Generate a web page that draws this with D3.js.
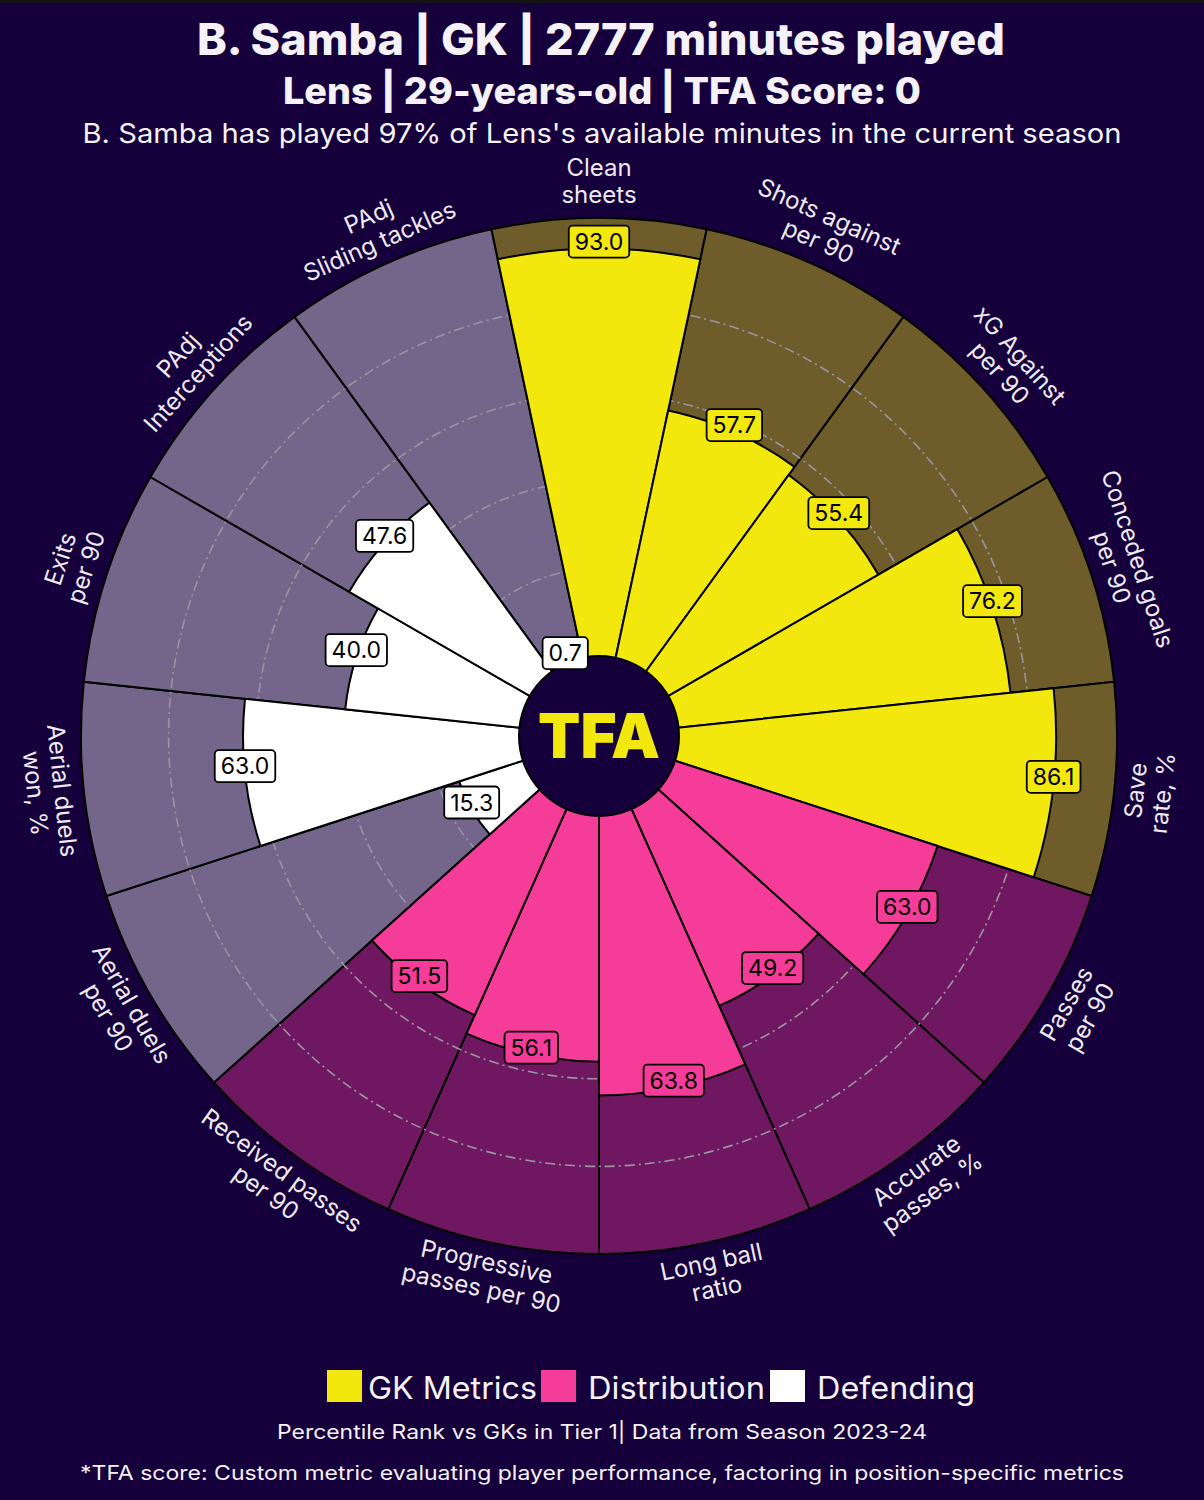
<!DOCTYPE html>
<meta charset="utf-8">
<script src="https://d3js.org/d3.v7.min.js"></script>
<style>
  body { margin: 0; background: #16003c; }
  text { font-family: Inter, "Noto Sans", sans-serif; }
</style>
<div id="chart"></div>
<script>

// parameters, clockwise from the top
var params = ["Clean\nsheets", "Shots against\nper 90", "xG Against\nper 90", "Conceded goals\nper 90", "Save\nrate, %",
  "Passes\nper 90", "Accurate\npasses, %", "Long ball\nratio", "Progressive\npasses per 90", "Received passes\nper 90",
  "Aerial duels\nper 90", "Aerial duels\nwon, %", "Exits\nper 90", "PAdj\nInterceptions", "PAdj\nSliding tackles"]
var values = [93.0, 57.7, 55.4, 76.2, 86.1,
  63.0, 49.2, 63.8, 56.1, 51.5,
  15.3, 63.0, 40.0, 47.6, 0.7]
var groupOf = ["GK Metrics", "GK Metrics", "GK Metrics", "GK Metrics", "GK Metrics",
  "Distribution", "Distribution", "Distribution", "Distribution", "Distribution",
  "Defending", "Defending", "Defending", "Defending", "Defending"]
var groups = ["GK Metrics", "Distribution", "Defending"]
var groupColors = ["#f2e80e", "#f43c98", "#ffffff"]
var gridTicks = [20, 40, 60, 80]

var W = 1204, H = 1500, cx = 599, cy = 736
var bg = "#16003c"
var color = d3.scaleOrdinal().domain(groups).range(groupColors)

var svg = d3.select("#chart").append("svg")
  .attr("width", W).attr("height", H)

svg.append("rect").attr("width", W).attr("height", H).attr("fill", bg)
svg.append("rect").attr("width", W).attr("height", 3).attr("fill", "#141414")

// titles
function fitText(sel, w) { sel.attr("textLength", w).attr("lengthAdjust", "spacingAndGlyphs") }
svg.append("text").attr("x", 601).attr("y", 55).attr("text-anchor", "middle")
  .attr("font-size", 44).attr("font-weight", 800).attr("fill", "#f4f2f6")
  .text("B. Samba | GK | 2777 minutes played").call(fitText, 808)
svg.append("text").attr("x", 602).attr("y", 104).attr("text-anchor", "middle")
  .attr("font-size", 37).attr("font-weight", 800).attr("fill", "#f4f2f6")
  .text("Lens | 29-years-old | TFA Score: 0").call(fitText, 638)
svg.append("text").attr("x", 602).attr("y", 143).attr("text-anchor", "middle")
  .attr("font-size", 27).attr("fill", "#f4f2f6")
  .text("B. Samba has played 97% of Lens's available minutes in the current season").call(fitText, 1039)

var r = d3.scaleLinear().domain([0, 100]).range([80, 518])
var step = 2 * Math.PI / params.length
var idx = d3.range(params.length)

var arc = d3.arc()
  .innerRadius(0)
  .startAngle(function(i){ return i * step - step / 2 })
  .endAngle(function(i){ return i * step + step / 2 })

var g = svg.append("g").attr("transform", "translate(" + cx + "," + cy + ")")

// background slices (full range, faded)
g.selectAll(".bgslice").data(idx).enter().append("path")
  .attr("d", function(i){ return arc.outerRadius(r(100))(i) })
  .attr("fill", function(i){ return color(groupOf[i]) })
  .attr("fill-opacity", 0.4)
  .attr("stroke", "#000").attr("stroke-width", 2)

// grid circles
g.selectAll(".grid").data(gridTicks).enter().append("circle")
  .attr("r", function(d){ return r(d) })
  .attr("fill", "none")
  .attr("stroke", "#9a94a0").attr("stroke-width", 1.6)
  .attr("stroke-dasharray", "10,4,2,4")

// value bars
g.selectAll(".bar").data(idx).enter().append("path")
  .attr("d", function(i){ return arc.outerRadius(r(values[i]))(i) })
  .attr("fill", function(i){ return color(groupOf[i]) })
  .attr("stroke", "#000").attr("stroke-width", 2)

// center circle + logo
g.append("circle").attr("r", 80).attr("fill", bg).attr("stroke", "#000").attr("stroke-width", 2)
g.append("text").attr("x", 0).attr("y", 22).attr("text-anchor", "middle")
  .attr("font-size", 62).attr("font-weight", 900).attr("fill", "#f2e80e")
  .text("TFA").call(fitText, 122)

// value labels (sit a little above the bar end)
var vl = g.selectAll(".val").data(idx).enter().append("g")
  .attr("transform", function(i){
    var a = i * step, rr = r(values[i])
    return "translate(" + (rr * Math.sin(a)) + "," + (-rr * Math.cos(a) - 7) + ")"
  })
vl.append("rect")
vl.append("text")
  .attr("text-anchor", "middle").attr("dominant-baseline", "central")
  .attr("font-size", 23).attr("fill", "#000")
  .text(function(i){ return values[i].toFixed(1) })
vl.each(function(i){
  var t = d3.select(this).select("text").node().getBBox()
  d3.select(this).select("rect")
    .attr("x", t.x - 6).attr("y", -16).attr("width", t.width + 12).attr("height", 32)
    .attr("rx", 4).attr("fill", color(groupOf[i]))
    .attr("stroke", "#000").attr("stroke-width", 1.8)
})

// parameter labels
var rl = 553
var pl = g.selectAll(".param").data(idx).enter().append("text")
  .attr("text-anchor", "middle")
  .attr("font-size", 24).attr("fill", "#eeeaf2")
  .attr("transform", function(i){
    var deg = i * 360 / params.length
    var a = i * step
    var rot = (deg > 90 && deg < 270) ? deg - 180 : deg
    return "translate(" + (rl * Math.sin(a)) + "," + (-rl * Math.cos(a) - 2) + ") rotate(" + rot + ")"
  })
pl.each(function(i){
  var lines = params[i].split("\n")
  var t = d3.select(this)
  lines.forEach(function(l, k){
    t.append("tspan").attr("x", 0)
      .attr("y", (k - (lines.length - 1) / 2) * 27)
      .attr("dominant-baseline", "central")
      .text(l)
  })
})

// legend
var legX = [327, 541, 770]
var legW = [169, 177, 158]
var leg = svg.selectAll(".leg").data(groups).enter().append("g")
  .attr("transform", function(d, k){ return "translate(" + legX[k] + ",1370)" })
leg.append("rect").attr("width", 35).attr("height", 32)
  .attr("fill", function(d){ return color(d) })
leg.append("text").attr("x", function(d, k){ return k == 0 ? 41 : 47 }).attr("y", 29)
  .attr("font-size", 31).attr("fill", "#f4f2f6")
  .attr("textLength", function(d, k){ return legW[k] }).attr("lengthAdjust", "spacingAndGlyphs")
  .text(function(d){ return d })

// footers
svg.append("text").attr("x", 602).attr("y", 1439).attr("text-anchor", "middle")
  .attr("font-size", 20).attr("fill", "#f4f2f6")
  .text("Percentile Rank vs GKs in Tier 1| Data from Season 2023-24").call(fitText, 650)
svg.append("text").attr("x", 602).attr("y", 1480).attr("text-anchor", "middle")
  .attr("font-size", 20).attr("fill", "#f4f2f6")
  .text("*TFA score: Custom metric evaluating player performance, factoring in position-specific metrics").call(fitText, 1044)

</script>
